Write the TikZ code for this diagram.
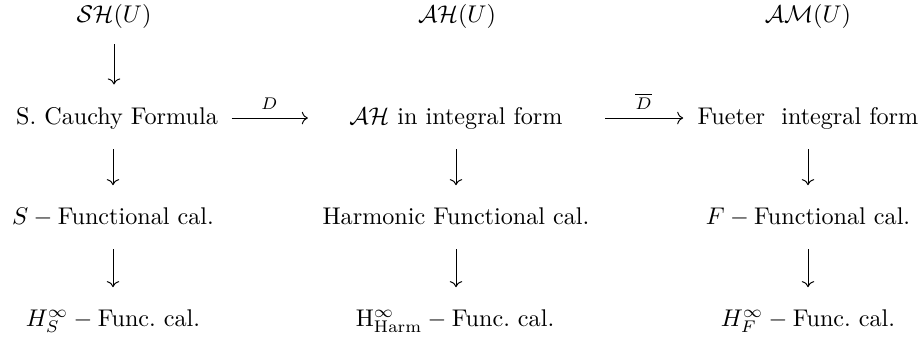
\documentclass[tikz,border=0pt]{standalone}
\usepackage{amsmath,amssymb}
\usepackage{tikz}
\usetikzlibrary{arrows.meta}

\begin{document}
\begin{tikzpicture}[
    x=0.414pt,y=-0.414pt,
    >={To},
    entry/.style={inner sep=0pt,text height=7.5pt,text depth=2.5pt},
    down/.style={->,shorten <=7.7pt,shorten >=8.4pt},
    map/.style={->},
    lbl/.style={above=3.5pt,inner sep=0pt,font=\scriptsize}
  ]
  \useasboundingbox (0,0) rectangle (923,337);
  % top row
  \node[entry] (sh) at (114,16) {$\mathcal{SH}(U)$};
  \node[entry] (ah) at (457,16) {$\mathcal{AH}(U)$};
  \node[entry] (am) at (808,16) {$\mathcal{AM}(U)$};
  % integral forms
  \node[entry] (cauchy) at (117,118) {S. Cauchy Formula};
  \node[entry] (ahint) at (456,118) {$\mathcal{AH}$ in integral form};
  \node[entry] (fueter) at (808,118) {Fueter\ \ integral form};
  % functional calculi
  \node[entry] (sfc) at (113,218) {$S-{}$Functional cal.};
  \node[entry] (hfc) at (456,218) {Harmonic Functional cal.};
  \node[entry] (ffc) at (808,218) {$F-{}$Functional cal.};
  \node[entry] (hs) at (113,320) {$H^\infty_S-{}$Func.\ cal.};
  \node[entry] (hh) at (455,320) {$\mathrm{H}^\infty_{\mathrm{Harm}}-{}$Func.\ cal.};
  \node[entry] (hf) at (808,320) {$H^\infty_F-{}$Func.\ cal.};

  \draw[down,shorten <=6.5pt,shorten >=8.7pt] (sh.south) -- (sh.south |- cauchy.north);
  \draw[down] (sfc.north |- cauchy.south) -- (sfc.north);
  \draw[down] (hfc.north |- ahint.south) -- (hfc.north);
  \draw[down] (ffc.north |- fueter.south) -- (ffc.north);
  \draw[down] (sfc.south) -- (sfc.south |- hs.north);
  \draw[down] (hfc.south) -- (hfc.south |- hh.north);
  \draw[down] (ffc.south) -- (ffc.south |- hf.north);

  \draw[map,shorten <=5.5pt,shorten >=17pt] (cauchy.east) -- node[lbl,pos=0.39] {$D$} (ahint.west);
  \draw[map,shorten <=17.5pt,shorten >=5.8pt] (ahint.east) -- node[lbl,pos=0.6] {$\overline{D}$} (fueter.west);
\end{tikzpicture}
\end{document}
